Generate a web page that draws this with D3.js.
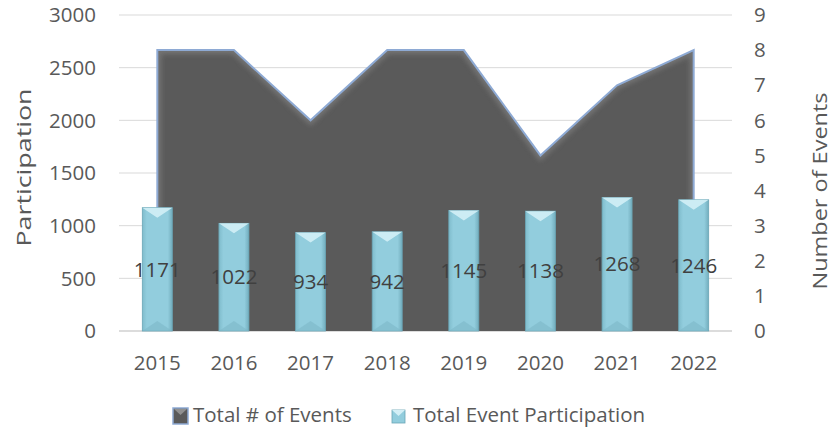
<!DOCTYPE html>
<html>
<head>
<meta charset="utf-8">
<script src="https://cdn.jsdelivr.net/npm/d3@7"></script>
<style>
  html, body { margin: 0; padding: 0; background: #ffffff; }
  svg { display: block; font-family: "Open Sans", "Noto Sans", sans-serif; }
</style>
</head>
<body>
<svg id="chart" width="832" height="431"></svg>
<script>
const years = ["2015", "2016", "2017", "2018", "2019", "2020", "2021", "2022"];
const participation = [1171, 1022, 934, 942, 1145, 1138, 1268, 1246];
const events = [8, 8, 6, 8, 8, 5, 7, 8];
const leftTicks = [0, 500, 1000, 1500, 2000, 2500, 3000];
const rightTicks = [0, 1, 2, 3, 4, 5, 6, 7, 8, 9];
const seriesNames = ["Total # of Events", "Total Event Participation"];
const axisTitles = ["Participation", "Number of Events"];

const svg = d3.select("#chart");
const plotL = 119, plotR = 732, plotT = 15, plotB = 331;
const textColor = "#595959";
const fs = 20.5;

const x = d3.scaleBand().domain(years).range([plotL, plotR]).paddingInner(0).paddingOuter(0);
const yL = d3.scaleLinear().domain([0, 3000]).range([plotB, plotT]);
const yR = d3.scaleLinear().domain([0, 9]).range([plotB, plotT]);

const defs = svg.append("defs");
const barGrad = defs.append("linearGradient").attr("id", "barGrad").attr("x1", 0).attr("x2", 1).attr("y1", 0).attr("y2", 0);
barGrad.append("stop").attr("offset", "0%").attr("stop-color", "#7fbccc");
barGrad.append("stop").attr("offset", "15%").attr("stop-color", "#92cddd");
barGrad.append("stop").attr("offset", "85%").attr("stop-color", "#92cddd");
barGrad.append("stop").attr("offset", "100%").attr("stop-color", "#72adbd");

const shadow = defs.append("filter").attr("id", "innerEdge").attr("x", "-5%").attr("y", "-5%").attr("width", "110%").attr("height", "110%");
shadow.append("feGaussianBlur").attr("stdDeviation", 2.5);

// gridlines
svg.append("g").selectAll("line").data(leftTicks).join("line")
  .attr("x1", plotL).attr("x2", plotR)
  .attr("y1", d => yL(d)).attr("y2", d => yL(d))
  .attr("stroke", d => d === 0 ? "#d0d0d0" : "#d9d9d9").attr("stroke-width", d => d === 0 ? 1.5 : 1);

// area for events
const pts = years.map((yr, i) => ({ yr, v: events[i] }));
const cx = d => x(d.yr) + x.bandwidth() / 2;
const area = d3.area().x(cx).y0(yR(0)).y1(d => yR(d.v));
const topLine = d3.line().x(cx).y(d => yR(d.v));

const clip = defs.append("clipPath").attr("id", "areaClip");
clip.append("path").attr("d", area(pts));

svg.append("path").attr("d", area(pts)).attr("fill", "#5a5a5a");
svg.append("g").attr("clip-path", "url(#areaClip)")
  .append("path")
  .attr("d", topLine(pts) + `M${cx(pts[0])},${yR(0)}L${cx(pts[0])},${yR(pts[0].v)}M${cx(pts[7])},${yR(0)}L${cx(pts[7])},${yR(pts[7].v)}`)
  .attr("fill", "none").attr("stroke", "#8a8a8a").attr("stroke-width", 8).attr("opacity", 0.55)
  .attr("filter", "url(#innerEdge)");
svg.append("path")
  .attr("d", `M${cx(pts[0])},${yR(0)}` + topLine(pts).replace(/^M/, "L") + `L${cx(pts[7])},${yR(0)}`)
  .attr("fill", "none").attr("stroke", "#8eaad4").attr("stroke-width", 2).attr("stroke-linejoin", "miter");

// bars
const bw = 30;
const bars = svg.append("g");
years.forEach((yr, i) => {
  const bx = x(yr) + x.bandwidth() / 2 - bw / 2;
  const by = yL(participation[i]);
  const bh = yL(0) - by;
  const g = bars.append("g");
  g.append("rect").attr("x", bx).attr("y", by).attr("width", bw).attr("height", bh)
    .attr("fill", "url(#barGrad)").attr("stroke", "#6aa6b6").attr("stroke-width", 0.8);
  const bev = 10;
  g.append("path").attr("d", `M${bx},${by}L${bx + bw},${by}L${bx + bw / 2},${by + bev}Z`).attr("fill", "#d3eff6").attr("opacity", 0.9);
  g.append("path").attr("d", `M${bx},${by + bh}L${bx + bw},${by + bh}L${bx + bw / 2},${by + bh - bev}Z`).attr("fill", "#7db8c8").attr("opacity", 0.6);
});

// data labels
svg.append("g").selectAll("text").data(years).join("text")
  .attr("x", d => x(d) + x.bandwidth() / 2)
  .attr("y", (d, i) => (yL(participation[i]) + yL(0)) / 2)
  .attr("dy", "0.35em")
  .attr("text-anchor", "middle").attr("font-size", fs).attr("fill", "#404040")
  .text((d, i) => participation[i]);

// left axis labels
svg.append("g").selectAll("text").data(leftTicks).join("text")
  .attr("x", 96).attr("y", d => yL(d)).attr("dy", "0.35em")
  .attr("text-anchor", "end").attr("font-size", fs).attr("fill", textColor)
  .text(d => d);

// right axis labels
svg.append("g").selectAll("text").data(rightTicks).join("text")
  .attr("x", 754).attr("y", d => yR(d)).attr("dy", "0.35em")
  .attr("text-anchor", "start").attr("font-size", fs).attr("fill", textColor)
  .text(d => d);

// x labels
svg.append("g").selectAll("text").data(years).join("text")
  .attr("x", d => x(d) + x.bandwidth() / 2).attr("y", 370)
  .attr("text-anchor", "middle").attr("font-size", fs).attr("fill", textColor)
  .text(d => d);

// axis titles
svg.append("text").attr("transform", `translate(31,167.5) rotate(-90)`)
  .attr("text-anchor", "middle").attr("font-size", 20).attr("fill", textColor)
  .attr("textLength", 158).attr("lengthAdjust", "spacingAndGlyphs").text(axisTitles[0]);
svg.append("text").attr("transform", `translate(827,191) rotate(-90)`)
  .attr("text-anchor", "middle").attr("font-size", 20).attr("fill", textColor)
  .attr("textLength", 197).attr("lengthAdjust", "spacingAndGlyphs").text(axisTitles[1]);

// legend
const leg = svg.append("g");
const legY = 415;
leg.append("rect").attr("x", 173).attr("y", legY - 7).attr("width", 15).attr("height", 16)
  .attr("fill", "#5a5a5a").attr("stroke", "#8eaad4").attr("stroke-width", 1.5);
leg.append("path").attr("d", `M174,${legY - 6}L187,${legY - 6}L180.5,${legY}Z`).attr("fill", "#909090");
leg.append("text").attr("x", 193).attr("y", legY).attr("dy", "0.35em").attr("font-size", fs).attr("fill", textColor).text(seriesNames[0]);
leg.append("rect").attr("x", 392).attr("y", legY - 5).attr("width", 13).attr("height", 13)
  .attr("fill", "#92cddd").attr("stroke", "#6aa6b6").attr("stroke-width", 0.8);
leg.append("path").attr("d", `M392,${legY - 5}L405,${legY - 5}L398.5,${legY + 1}Z`).attr("fill", "#d3eff6");
leg.append("text").attr("x", 413).attr("y", legY).attr("dy", "0.35em").attr("font-size", fs).attr("fill", textColor).text(seriesNames[1]);
</script>
</body>
</html>
